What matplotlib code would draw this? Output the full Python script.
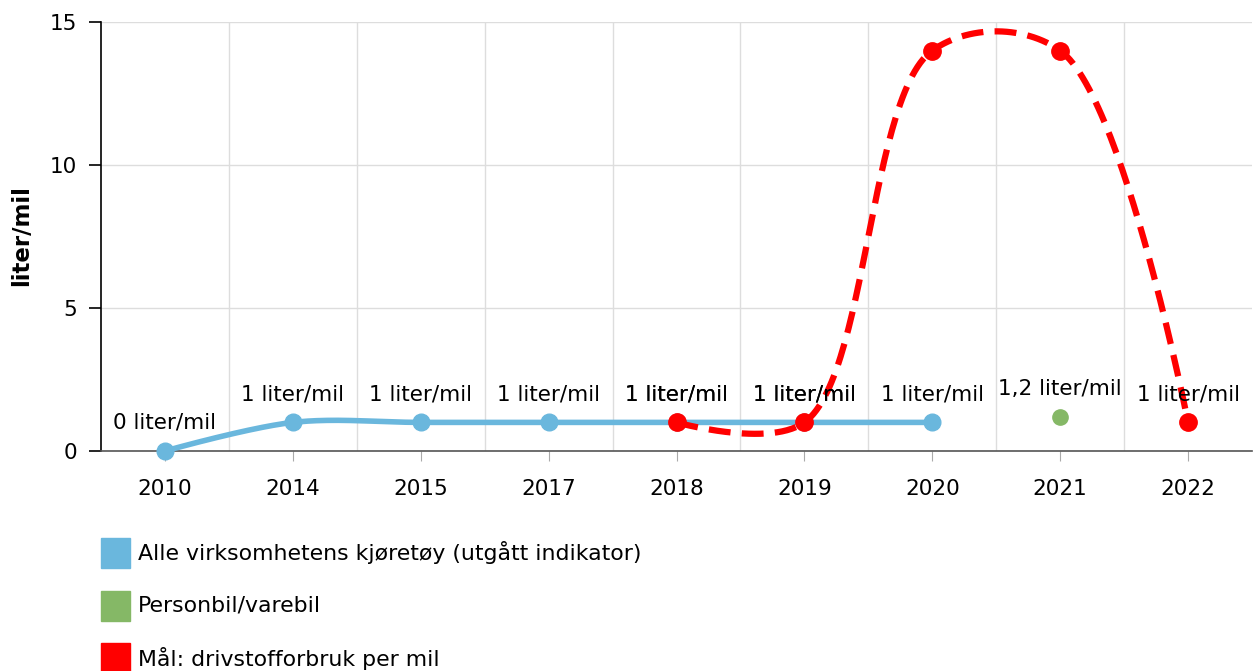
import numpy as np
import matplotlib
matplotlib.use("Agg")
import matplotlib.pyplot as plt
from matplotlib.patches import Rectangle

years = ["2010", "2014", "2015", "2017", "2018", "2019", "2020", "2021", "2022"]

alle_idx = [0, 1, 2, 3, 4, 5, 6]
alle_val = [0, 1, 1, 1, 1, 1, 1]
alle_lbl = ["0 liter/mil", "1 liter/mil", "1 liter/mil", "1 liter/mil",
            "1 liter/mil", "1 liter/mil", "1 liter/mil"]

person_idx = [7]
person_val = [1.2]
person_lbl = ["1,2 liter/mil"]

maal_idx = [4, 5, 6, 7, 8]
maal_val = [1, 1, 14, 14, 1]
maal_lbl = ["1 liter/mil", "1 liter/mil", None, None, "1 liter/mil"]

names = ["Alle virksomhetens kjøretøy (utgått indikator)",
         "Personbil/varebil",
         "Mål: drivstofforbruk per mil"]
colors = ["#6ab7dd", "#85b866", "#ff0000"]

FS = 15.5
plt.rcParams["font.family"] = ["DejaVu Sans"]
W, H = 1253, 671
fig = plt.figure(figsize=(W / 100, H / 100), dpi=100)
ax = fig.add_axes([101 / W, (H - 451) / H, 1151 / W, 429 / H])
ax.set_xlim(-0.5, len(years) - 0.5)
ax.set_ylim(0, 15)


def catmull(xs, ys, alpha=0.5, steps=60):
    # centripetal catmull-rom, done in pixel space
    pts = ax.transData.transform(np.column_stack([xs, ys]).astype(float))
    n = len(pts)
    out = [pts[0]]
    for i in range(n - 1):
        p1, p2 = pts[i], pts[i + 1]
        p0 = pts[i - 1] if i > 0 else p1
        p3 = pts[i + 2] if i + 2 < n else p2
        l01 = np.hypot(*(p1 - p0)); l12 = np.hypot(*(p2 - p1)); l23 = np.hypot(*(p3 - p2))
        l01a, l12a, l23a = l01 ** alpha, l12 ** alpha, l23 ** alpha
        l01b, l12b, l23b = l01 ** (2 * alpha), l12 ** (2 * alpha), l23 ** (2 * alpha)
        c1 = p1.copy()
        if l01a > 1e-9:
            a = 2 * l01b + 3 * l01a * l12a + l12b
            nn = 3 * l01a * (l01a + l12a)
            c1 = (p1 * a - p0 * l12b + p2 * l01b) / nn
        c2 = p2.copy()
        if l23a > 1e-9:
            b = 2 * l23b + 3 * l23a * l12a + l12b
            m = 3 * l23a * (l23a + l12a)
            c2 = (p2 * b + p1 * l23b - p3 * l12b) / m
        t = np.linspace(0, 1, steps)[1:, None]
        seg = ((1 - t) ** 3) * p1 + 3 * ((1 - t) ** 2) * t * c1 + 3 * (1 - t) * t ** 2 * c2 + t ** 3 * p2
        out.extend(seg)
    out = np.array(out)
    d = ax.transData.inverted().transform(out)
    return d[:, 0], d[:, 1]


# blue series
cx, cy = catmull(alle_idx, alle_val)
ax.plot(cx, cy, color=colors[0], lw=4, solid_capstyle="round", zorder=3, clip_on=False)
ax.plot(alle_idx, alle_val, "o", color=colors[0], ms=12, zorder=4, clip_on=False)

# green series
ax.plot(person_idx, person_val, "o", color=colors[1], ms=11, zorder=4, clip_on=False)

# red series
cx, cy = catmull(maal_idx, maal_val)
ax.plot(cx, cy, color=colors[2], lw=4.5, dashes=(3.5, 1.8), zorder=5, clip_on=False)
ax.plot(maal_idx, maal_val, "o", color=colors[2], ms=12.5, zorder=6, clip_on=False)

for xs, vs, ls in [(alle_idx, alle_val, alle_lbl), (person_idx, person_val, person_lbl),
                   (maal_idx, maal_val, maal_lbl)]:
    for x, v, l in zip(xs, vs, ls):
        if l is None:
            continue
        ax.annotate(l, (x, v), xytext=(0, 28), textcoords="offset pixels",
                    ha="center", va="center", fontsize=FS, color="#000000", zorder=7)

ax.set_xticks(range(len(years)))
ax.set_xticklabels(years)
ax.set_xticks(np.arange(0.5, len(years) - 0.5, 1), minor=True)
ax.set_yticks([0, 5, 10, 15])
ax.grid(True, which="minor", axis="x", color="#dddddd", lw=1)
ax.grid(True, which="major", axis="y", color="#dddddd", lw=1)
ax.set_axisbelow(True)
ax.tick_params(axis="x", which="major", length=7, color="#aaaaaa", labelsize=FS, pad=13)
ax.tick_params(axis="x", which="minor", length=0)
ax.tick_params(axis="y", length=9, color="#000000", width=1.2, labelsize=FS, pad=8)
for s in ["top", "right"]:
    ax.spines[s].set_visible(False)
ax.spines["left"].set_color("#000000")
ax.spines["left"].set_linewidth(1.2)
ax.spines["bottom"].set_color("#555555")
ax.spines["bottom"].set_linewidth(1.2)
ax.set_ylabel("liter/mil", fontsize=16.5, fontweight="bold")
ax.yaxis.set_label_coords(33 / W, (H - 236) / H, transform=fig.transFigure)

# legend
for i, (name, col) in enumerate(zip(names, colors)):
    yc = 553 + i * 52.5
    fig.patches.append(Rectangle((101 / W, (H - yc - 15) / H), 29 / W, 30 / H,
                                 transform=fig.transFigure, color=col, figure=fig))
    fig.text(138 / W, (H - yc) / H, name, fontsize=15.8, va="center", ha="left")

fig.savefig("out.png", dpi=100)
